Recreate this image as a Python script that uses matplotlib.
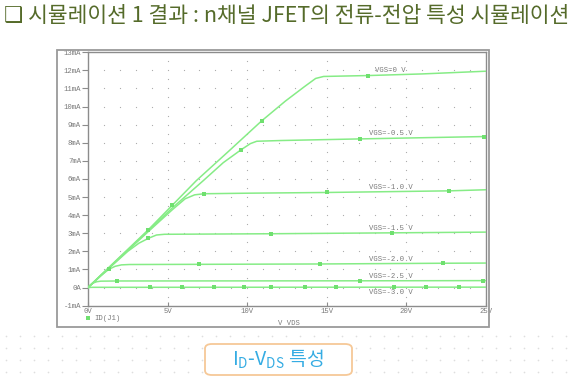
import numpy as np
import matplotlib
matplotlib.use("Agg")
import matplotlib.pyplot as plt
from matplotlib.patches import Rectangle, FancyBboxPatch
from matplotlib.lines import Line2D

# ---- data (VDS in V, ID in mA) ----
vgs_labels = ["VGS=0 V", "VGS=-0.5 V", "VGS=-1.0 V", "VGS=-1.5 V",
              "VGS=-2.0 V", "VGS=-2.5 V", "VGS=-3.0 V"]

vds_0 = [0, 1.3, 3.8, 5.3, 6.8, 8.8, 10.9, 12.4, 13.6, 14.3, 14.8, 17.6, 21, 25]
id_0 = [0, 1.1, 3.2, 4.55, 5.9, 7.5, 9.2, 10.3, 11.1, 11.55, 11.66, 11.71, 11.8, 11.95]
vds_05 = [0, 1.3, 3.8, 5.3, 7.25, 8.5, 9.6, 10.2, 10.6, 12.1, 17.1, 24.9, 25]
id_05 = [0, 1.08, 3.15, 4.4, 5.91, 6.9, 7.6, 7.95, 8.08, 8.12, 8.21, 8.34, 8.35]
vds_10 = [0, 1.3, 3.8, 5.3, 6.1, 6.7, 7.3, 10, 15, 22.7, 25]
id_10 = [0, 1.07, 3.1, 4.3, 4.9, 5.12, 5.18, 5.21, 5.25, 5.34, 5.4]
vds_15 = [0, 1.3, 2.5, 3.2, 3.8, 4.3, 4.8, 11.5, 19.1, 25]
id_15 = [0, 1.05, 2.0, 2.45, 2.72, 2.9, 2.94, 2.97, 3.02, 3.06]
vds_20 = [0, 0.8, 1.3, 1.7, 2.1, 2.6, 7.0, 14.6, 22.3, 25]
id_20 = [0, 0.65, 1.0, 1.17, 1.25, 1.27, 1.28, 1.3, 1.34, 1.35]
vds_25 = [0, 0.3, 0.55, 0.8, 1.8, 17.1, 24.8, 25]
id_25 = [0, 0.24, 0.32, 0.35, 0.36, 0.37, 0.38, 0.38]
vds_30 = [0, 0.3, 25]
id_30 = [0, 0.01, 0.02]

# marker positions (PSpice trace symbols)
mk_0 = ([5.3, 10.9, 17.6], [4.57, 9.2, 11.71])
mk_05 = ([3.8, 9.6, 17.1, 24.9], [3.17, 7.6, 8.21, 8.34])
mk_10 = ([7.3, 15, 22.7], [5.18, 5.25, 5.34])
mk_15 = ([3.8, 11.5, 19.1], [2.72, 2.97, 3.02])
mk_20 = ([1.3, 7.0, 14.6, 22.3], [1.0, 1.28, 1.3, 1.34])
mk_25 = ([1.8, 17.1, 24.8], [0.36, 0.37, 0.38])
mk_30 = ([3.9, 5.9, 7.9, 9.8, 11.5, 13.6, 15.6, 19.2, 21.2, 23.3],
         [0.01] * 10)

x_ticks = [0, 5, 10, 15, 20, 25]
x_ticklabels = ["0V", "5V", "10V", "15V", "20V", "25V"]
y_ticks = list(range(-1, 14))
y_ticklabels = ["-1mA", "0A"] + ["%dmA" % v for v in range(1, 14)]

curves = [(vds_0, id_0, mk_0), (vds_05, id_05, mk_05), (vds_10, id_10, mk_10),
          (vds_15, id_15, mk_15), (vds_20, id_20, mk_20), (vds_25, id_25, mk_25),
          (vds_30, id_30, mk_30)]

GREEN = "#86ec86"
MK = "#6fe06f"
GRAY = "#7a7a7a"
MONO = "Liberation Mono"
W, H = 580, 377

plt.rcParams["font.family"] = ["Noto Sans CJK KR", "DejaVu Sans"]
fig = plt.figure(figsize=(W / 100, H / 100), dpi=100)
fig.patch.set_facecolor("white")

# faint slide dot pattern at the bottom
bg = fig.add_axes([0, 0, 1, 1], zorder=-5)
bg.set_xlim(0, W); bg.set_ylim(H, 0); bg.axis("off")
gx, gy = np.meshgrid(np.arange(6, W, 14), np.arange(336, H, 12))
bg.scatter(gx.ravel(), gy.ravel(), s=1.5, c="#dedede", lw=0)

# title
fig.text(4 / W, 1 - 16 / H, "❑ 시뮬레이션 1 결과 : n채널 JFET의 전류-전압 특성 시뮬레이션",
         fontsize=15.5, color="#556b2a", va="center", ha="left",
         family=["Noto Sans CJK KR", "DejaVu Sans"])

# outer probe frame
fig.add_artist(Rectangle((57 / W, 1 - 327 / H), 432 / W, 277 / H,
                         transform=fig.transFigure, fill=False,
                         ec="#9a9a9a", lw=1.3))

ax = fig.add_axes([88 / W, 1 - 305.6 / H, 398 / W, 253.4 / H])
ax.set_xlim(0, 25)
ax.set_ylim(-1, 13)
for s in ax.spines.values():
    s.set_color("#8c8c8c"); s.set_linewidth(1.0)

# dotted grid like PSpice
gxs, gys = [], []
for v in range(1, 25):
    rows = np.arange(-0.5, 13, 0.5) if v % 5 == 0 else np.arange(0, 13, 1)
    for r in rows:
        gxs.append(v); gys.append(r)
ax.scatter(gxs, gys, s=0.8, c="#aaaaaa", lw=0, zorder=1)

for (xv, yv, mk), lab in zip(curves, vgs_labels):
    ax.plot(xv, yv, "-", color=GREEN, lw=1.1, zorder=3)
    ax.plot(mk[0], mk[1], "s", color=MK, ms=2.6, mew=0, zorder=4)
    off = -0.32 if lab == "VGS=-3.0 V" else 0.24
    ax.text(19, np.interp(19, xv, yv) + off, lab, family=MONO, fontsize=5.2,
            color=GRAY, ha="center", va="center", zorder=5)

ax.set_xticks(x_ticks)
ax.set_xticklabels(x_ticklabels)
ax.set_yticks(y_ticks)
ax.set_yticklabels(y_ticklabels)
ax.tick_params(axis="x", direction="in", length=3, width=0.8, color="#8c8c8c",
               pad=2, labelsize=5.2, labelcolor=GRAY)
ax.tick_params(axis="y", direction="out", length=4, width=0.8, color="#8c8c8c",
               pad=1, labelsize=5.2, labelcolor=GRAY)
for t in ax.get_xticklabels() + ax.get_yticklabels():
    t.set_family(MONO)

fig.text(289 / W, 1 - 323.5 / H, "V VDS", family=MONO, fontsize=5.2,
         color=GRAY, ha="center", va="center")
fig.legend(handles=[Line2D([], [], marker="s", ls="none", color=MK, ms=3, mew=0)],
           labels=["ID(J1)"], loc="center left",
           bbox_to_anchor=(85 / W, 1 - 318.5 / H), frameon=False,
           prop={"family": MONO, "size": 5.2}, labelcolor=GRAY,
           handlelength=0.8, handletextpad=0.5, borderpad=0, borderaxespad=0)

# caption box
fig.add_artist(FancyBboxPatch((205 / W, 1 - 375 / H), 147 / W, 31 / H,
                              boxstyle="round,pad=0,rounding_size=0.012",
                              transform=fig.transFigure, fc="white",
                              ec="#f6c897", lw=1.3))
fig.text(278 / W, 1 - 359.5 / H, r"$\mathregular{I_D}$-$\mathregular{V_{DS}}$ 특성",
         fontsize=14, color="#35ace3", ha="center", va="center")

fig.savefig("out.png", dpi=100)
